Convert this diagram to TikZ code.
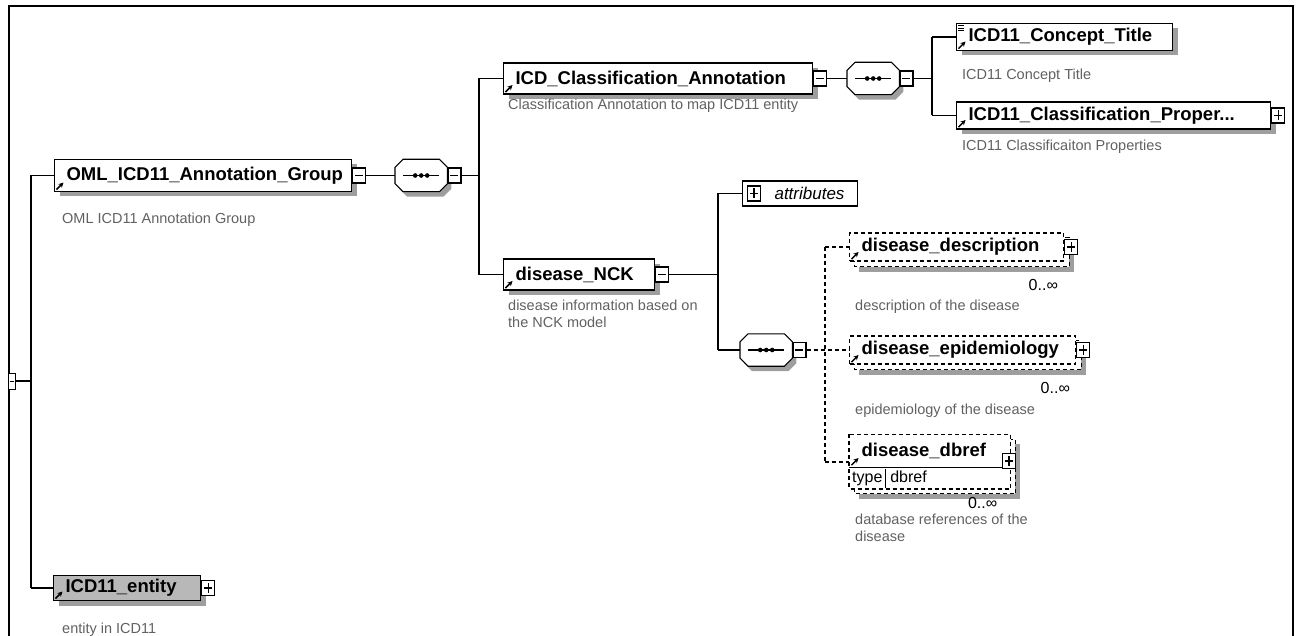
\documentclass[tikz,border=0pt]{standalone}
\usepackage{fontspec}
\setmainfont{Liberation Sans}
\usetikzlibrary{shadows,arrows.meta,backgrounds}
\definecolor{descgray}{gray}{0.38}
\definecolor{shadowc}{gray}{0.62}
\definecolor{entfill}{gray}{0.72}
\newcommand\octpath[3]{([shift={(8+#2,#3)}]#1.north west) -- ([shift={(-8+#2,#3)}]#1.north east) -- ([shift={(#2,8+#3)}]#1.north east) -- ([shift={(#2,-8+#3)}]#1.south east) -- ([shift={(-8+#2,#3)}]#1.south east) -- ([shift={(8+#2,#3)}]#1.south west) -- ([shift={(#2,-8+#3)}]#1.south west) -- ([shift={(#2,8+#3)}]#1.north west) -- cycle}
\newcommand\seqdraw[1]{%
  \fill[shadowc] \octpath{#1}{4}{5};
  \draw[fill=white, line width=1.1pt] \octpath{#1}{0}{0};
  \draw[line width=1.4pt] ([shift={(8,0)}]#1.west) -- ([shift={(-8,0)}]#1.east);
  \foreach \d in {-6,0,6} \fill ([shift={(\d,0)}]#1.center) circle (2.3);
}
\newcommand\refarrow[1]{\draw[-{Stealth[length=5pt,width=5pt]}, line width=1.5pt] ([shift={(2.5,-2.5)}]#1.south west) -- ++(7,-7);}
\newcommand\stackback[2]{%
  \begin{pgfonlayer}{background}
    \fill[shadowc] ([shift={(10,10)}]#1.north west) rectangle ([shift={(10,10)}]#2.south east);
    \draw[line width=1pt, fill=white, dash pattern=on 4pt off 3pt] ([shift={(5,5)}]#1.north west) rectangle ([shift={(5,5)}]#2.south east);
  \end{pgfonlayer}}
\begin{document}
\begin{tikzpicture}[x=1pt,y=-1pt,
  conn/.style={line width=1.1pt},
  dconn/.style={line width=1.1pt, dash pattern=on 4pt off 3pt},
  elem/.style={draw, fill=white, line width=1.1pt, anchor=west, inner xsep=12pt, inner ysep=0pt, align=left,
    font=\fontsize{18.5}{21}\selectfont\bfseries, execute at begin node={\hyphenpenalty=10000 }},
  shad/.style={drop shadow={shadow xshift=5pt, shadow yshift=-5pt, fill=shadowc, opacity=1}},
  btn/.style={draw, fill=white, line width=1.1pt, minimum width=13pt, minimum height=15pt, inner sep=0pt, anchor=west},
  minusbtn/.style={btn, path picture={\draw[line width=1.2pt] ([shift={(2.5,0)}]path picture bounding box.west) -- ([shift={(-2.5,0)}]path picture bounding box.east);}},
  plusbtn/.style={btn, path picture={\draw[line width=1.2pt] ([shift={(2.5,0)}]path picture bounding box.west) -- ([shift={(-2.5,0)}]path picture bounding box.east);
     \draw[line width=1.2pt] ([shift={(0,2.5)}]path picture bounding box.north) -- ([shift={(0,-2.5)}]path picture bounding box.south);}},
  seqn/.style={minimum width=52pt, minimum height=32pt, inner sep=0pt, anchor=west},
  desc/.style={anchor=west, inner sep=0pt, align=left, text=descgray, font=\fontsize{14.5}{17}\selectfont},
  occ/.style={anchor=east, inner sep=0pt, font=\fontsize{16}{18}\selectfont},
  ]
\useasboundingbox (0,0) rectangle (1300,636);
\draw[line width=1.6pt] (9,636) -- (9,6) -- (1293,6) -- (1293,636);

% root
\node[draw, fill=white, line width=1pt, minimum width=7pt, minimum height=16pt, inner sep=0pt, anchor=west,
  path picture={\draw[line width=1pt] ([shift={(1,0)}]path picture bounding box.west) -- ([shift={(-2,0)}]path picture bounding box.east);}] (root) at (8,381) {};
\coordinate (b0t) at (31,175.5);
\coordinate (b0b) at (31,588);
\draw[conn] (root.east) -- (root.east -| b0t);
\draw[conn] (b0t) -- (b0b);

% OML
\node[elem, shad, minimum height=32pt, text width=273pt] (oml) at (54,175.5) {OML\_ICD11\_Annotation\_Group};
\refarrow{oml}
\node[minusbtn] (omlm) at (oml.east) {};
\draw[conn] (b0t) -- (oml.west);
\node[desc] (omld) at (62,220) {OML ICD11 Annotation Group};

\node[seqn] (s1) at (395,175.5) {};
\seqdraw{s1}
\node[minusbtn] (s1m) at (s1.east) {};
\draw[conn] (omlm.east) -- (s1.west);
\coordinate (b1t) at (479,78.5);
\coordinate (b1b) at (479,274.5);
\draw[conn] (s1m.east) -- (s1m.east -| b1t);
\draw[conn] (b1t) -- (b1b);

% ICD_Classification_Annotation
\node[elem, shad, minimum height=31pt, text width=285pt] (ica) at (503,78.5) {ICD\_Classification\_Annotation};
\refarrow{ica}
\node[minusbtn] (icam) at (ica.east) {};
\draw[conn] (b1t) -- (ica.west);
\node[desc] (icad) at (508,106) {Classification Annotation to map ICD11 entity};

\node[seqn] (s2) at (847,78.5) {};
\seqdraw{s2}
\node[minusbtn] (s2m) at (s2.east) {};
\draw[conn] (icam.east) -- (s2.west);
\coordinate (b2t) at (932,37);
\coordinate (b2b) at (932,115.5);
\draw[conn] (s2m.east) -- (s2m.east -| b2t);
\draw[conn] (b2t) -- (b2b);

\node[elem, shad, minimum height=27pt, text width=192pt] (ct) at (956,37) {ICD11\_Concept\_Title};
\refarrow{ct}
\foreach \k in {3,5.5,8} \draw[line width=0.9pt] ([shift={(2,\k)}]ct.north west) -- ++(6,0);
\draw[conn] (b2t) -- (ct.west);
\node[desc] (ctd) at (962,76) {ICD11 Concept Title};

\node[elem, shad, minimum height=27pt, text width=290pt] (cp) at (956,115.5) {ICD11\_Classification\_Proper...};
\refarrow{cp}
\node[plusbtn] (cpp) at (cp.east) {};
\draw[conn] (b2b) -- (cp.west);
\node[desc] (cpd) at (962,147) {ICD11 Classificaiton Properties};

% disease_NCK
\node[elem, shad, minimum height=31pt, text width=127pt] (nck) at (503,274.5) {disease\_NCK};
\refarrow{nck}
\node[minusbtn] (nckm) at (nck.east) {};
\draw[conn] (b1b) -- (nck.west);
\node[desc] (nckd) at (508,314) {disease information based on\\the NCK model};
\coordinate (b3t) at (718,193.5);
\coordinate (b3b) at (718,350);
\draw[conn] (nckm.east) -- (nckm.east -| b3t);
\draw[conn] (b3t) -- (b3b);

\node[draw, fill=white, line width=1.1pt, anchor=west, minimum height=25pt, inner xsep=0pt, inner ysep=0pt, text width=115pt, align=left,
  font=\fontsize{17}{19}\selectfont\itshape] (attr) at (742,193.5) {\hspace*{32pt}attributes};
\node[plusbtn] (attrp) at (747,193.5) {};
\draw[conn] (b3t) -- (attr.west);

\node[seqn] (s3) at (740,350) {};
\seqdraw{s3}
\node[minusbtn] (s3m) at (s3.east) {};
\draw[conn] (b3b) -- (s3.west);
\coordinate (b4t) at (825,247);
\coordinate (b4b) at (825,462);
\draw[dconn] (b4t) -- (b4b);

% disease_description
\node[elem, dash pattern=on 4pt off 3pt, minimum height=28pt, text width=190pt] (dsc) at (849,247) {disease\_description};
\stackback{dsc}{dsc}
\refarrow{dsc}
\node[plusbtn] (dscp) at (dsc.east) {};
\draw[dconn] (b4t) -- (dsc.west);
\node[occ] (dsco) at ([shift={(-6,23)}]dsc.south east) {0..∞};
\node[desc] (dscd) at (855,307) {description of the disease};

% disease_epidemiology
\node[elem, dash pattern=on 4pt off 3pt, minimum height=28pt, text width=202pt] (epi) at (849,350) {disease\_epidemiology};
\stackback{epi}{epi}
\refarrow{epi}
\node[plusbtn] (epip) at (epi.east) {};
\draw[dconn] (s3m.east) -- (epi.west);
\node[occ] (epio) at ([shift={(-6,23)}]epi.south east) {0..∞};
\node[desc] (epid) at (855,411) {epidemiology of the disease};

% disease_dbref
\node[elem, draw=none, minimum height=32pt, text width=137pt] (dbr) at (849,451) {disease\_dbref};
\node[anchor=north west, fill=white, inner xsep=3pt, inner ysep=0pt, minimum height=21pt, text width=155pt, align=left,
  font=\fontsize{16}{18}\selectfont] (dbt) at (dbr.south west) {type\hspace{3pt}\vrule width 0.8pt height 14pt depth 5pt\hspace{4pt}dbref};
\stackback{dbr}{dbt}
\draw[line width=1.1pt, dash pattern=on 4pt off 3pt] (dbr.north west) rectangle (dbt.south east);
\draw[line width=1.1pt] (dbr.south west) -- (dbr.south east);
\refarrow{dbr}
\node[plusbtn] (dbrp) at (1002,461) {};
\draw[dconn] (b4b) -- (dbr.west |- b4b);
\node[occ] (dbro) at ([shift={(-13,14)}]dbt.south east) {0..∞};
\node[desc] (dbrd) at (855,528) {database references of the\\disease};

% ICD11_entity
\node[elem, shad, fill=entfill, minimum height=25pt, text width=123pt] (ent) at (53,588) {ICD11\_entity};
\refarrow{ent}
\node[plusbtn] (entp) at (ent.east) {};
\draw[conn] (b0b) -- (ent.west);
\node[desc] (entd) at (62,630) {entity in ICD11};
\end{tikzpicture}
\end{document}
